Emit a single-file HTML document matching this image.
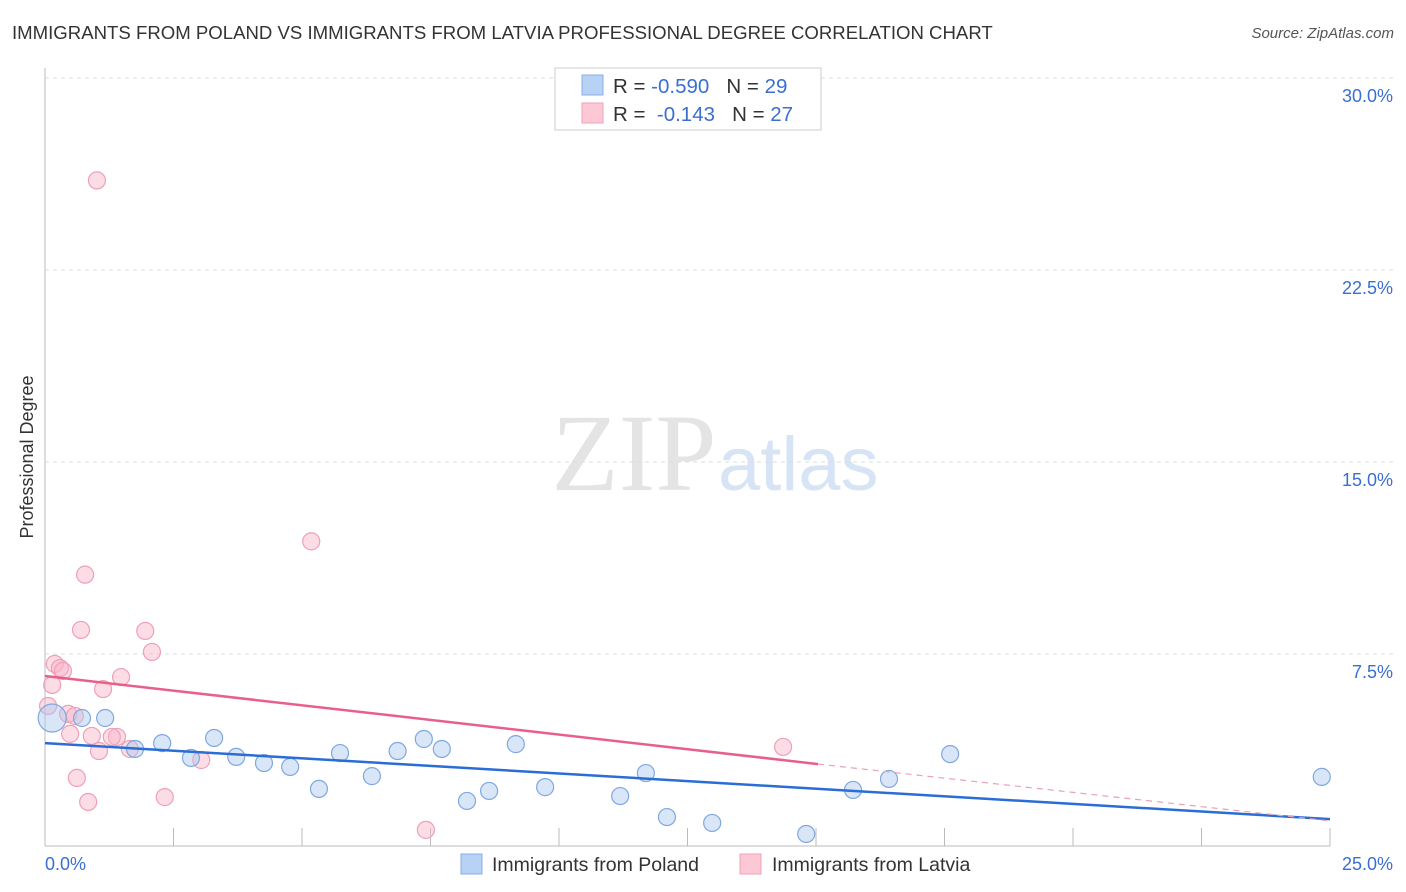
<!DOCTYPE html>
<html><head><meta charset="utf-8"><style>
body{margin:0;background:#fff;font-family:"Liberation Sans",sans-serif;}
#wrap{position:relative;width:1406px;height:892px;overflow:hidden;}
.t{position:absolute;white-space:nowrap;}
</style></head><body>
<div id="wrap">
<div class="t" style="left:12px;top:22px;font-size:18.6px;color:#333;">IMMIGRANTS FROM POLAND VS IMMIGRANTS FROM LATVIA PROFESSIONAL DEGREE CORRELATION CHART</div>
<div class="t" style="right:12px;top:25px;font-size:15px;color:#555;font-style:italic;">Source: ZipAtlas.com</div>
<svg id="svg" width="1406" height="892" style="position:absolute;left:0;top:0;"></svg>
</div>
<script>
const xTicks=[0,25];
const yTicks=[7.5,15,22.5,30];
const polandX=[0.14,0.72,1.17,1.75,2.28,2.84,3.29,3.72,4.26,4.77,5.33,5.74,6.36,6.86,7.37,7.72,8.21,8.64,9.16,9.73,11.19,11.69,12.10,12.98,14.81,15.72,16.42,17.61,24.84];
const polandY=[5.0,5.0,5.0,3.79,4.02,3.44,4.22,3.48,3.24,3.09,2.23,3.63,2.73,3.71,4.18,3.79,1.76,2.15,3.98,2.30,1.95,2.85,1.13,0.90,0.47,2.19,2.62,3.59,2.70];
const polandR=[14,8.5,8.5,8.5,8.5,8.5,8.5,8.5,8.5,8.5,8.5,8.5,8.5,8.5,8.5,8.5,8.5,8.5,8.5,8.5,8.5,8.5,8.5,8.5,8.5,8.5,8.5,8.5,8.5];
const latviaX=[1.01,5.18,0.78,0.70,1.95,2.08,0.19,0.29,0.35,0.14,1.48,1.13,0.06,0.45,0.58,0.49,0.91,1.40,1.30,1.05,1.65,3.04,0.62,2.33,0.84,7.41,14.36];
const latviaY=[26.0,11.9,10.6,8.44,8.40,7.58,7.11,6.95,6.84,6.29,6.60,6.13,5.47,5.16,5.08,4.38,4.30,4.26,4.26,3.71,3.79,3.36,2.66,1.91,1.72,0.63,3.87];
const polandTrend=[[0,4.02],[25,1.05]];
const latviaTrend=[[0,6.64],[15.04,3.2],[25,0.98]];
const X0=45,X1=1330,Y0=846,Y30=78;
const sx=v=>X0+(v/25)*(X1-X0);
const sy=v=>Y0-(v/30)*(Y0-Y30);
const svg=document.getElementById('svg');
const NS='http://www.w3.org/2000/svg';
function mk(tag,attrs,name,txt){const e=document.createElementNS(NS,tag);for(const k in attrs)e.setAttribute(k,attrs[k]);


if(txt!==undefined)e.textContent=txt;svg.appendChild(e);return e;}
mk('text',{x:634,y:490,'font-size':110,'font-family':'Liberation Serif,serif',fill:'#e4e4e4','text-anchor':'middle'},'watermark-zip','ZIP');
mk('text',{x:718,y:490,'font-size':76,'font-family':'Liberation Sans,sans-serif',fill:'#d6e4f5'},'watermark-atlas','atlas');
yTicks.forEach(v=>{const y=sy(v);
mk('line',{x1:X0,x2:1393,y1:y,y2:y,stroke:'#ddd','stroke-dasharray':'4,4'},'gridline');
mk('text',{x:1393,y:y+24,'font-size':18,fill:'#3a6fd0','text-anchor':'end'},'y-tick-label',v.toFixed(1)+'%');});
mk('line',{x1:X0,x2:X0,y1:68,y2:Y0,stroke:'#bbb'},'y-axis-line');
mk('line',{x1:X0,x2:X1,y1:Y0,y2:Y0,stroke:'#bbb'},'x-axis-line');
for(let i=1;i<=10;i++){const x=sx(i*2.5);mk('line',{x1:x,x2:x,y1:828,y2:Y0,stroke:'#bbb'},'x-tick');}
mk('text',{x:45,y:870,'font-size':18,fill:'#3a6fd0'},'x-tick-label',xTicks[0].toFixed(1)+'%');
mk('text',{x:1393,y:870,'font-size':18,fill:'#3a6fd0','text-anchor':'end'},'x-tick-label',xTicks[1].toFixed(1)+'%');
mk('text',{x:33,y:457,'font-size':18,fill:'#333','text-anchor':'middle',transform:'rotate(-90 33 457)'},'y-axis-title','Professional Degree');
latviaX.forEach((v,i)=>mk('circle',{cx:sx(v),cy:sy(latviaY[i]),r:8.5,fill:'rgba(248,180,200,0.45)',stroke:'#eea0b8','stroke-width':1.2},'latvia-point'));
polandX.forEach((v,i)=>mk('circle',{cx:sx(v),cy:sy(polandY[i]),r:polandR[i],fill:'rgba(170,200,240,0.45)',stroke:'#7fa8e0','stroke-width':1.2},'poland-point'));
mk('line',{x1:sx(polandTrend[0][0]),y1:sy(polandTrend[0][1]),x2:sx(polandTrend[1][0]),y2:sy(polandTrend[1][1]),stroke:'#2a6dd6','stroke-width':2.5},'poland-trend-line');
mk('line',{x1:sx(latviaTrend[0][0]),y1:sy(latviaTrend[0][1]),x2:sx(latviaTrend[1][0]),y2:sy(latviaTrend[1][1]),stroke:'#e8608a','stroke-width':2.5},'latvia-trend-line');
mk('line',{x1:sx(latviaTrend[1][0]),y1:sy(latviaTrend[1][1]),x2:sx(latviaTrend[2][0]),y2:sy(latviaTrend[2][1]),stroke:'#e8a0b8','stroke-width':1.2,'stroke-dasharray':'6,5'},'latvia-trend-extension');
mk('rect',{x:555,y:68,width:266,height:62,fill:'#fff',stroke:'#ccc'},'stats-legend-box');
mk('rect',{x:582,y:75,width:21,height:20,fill:'#b8d2f5',stroke:'#88aee6'},'poland-legend-swatch');
mk('rect',{x:582,y:103,width:21,height:20,fill:'#fcc8d6',stroke:'#f0a0b8'},'latvia-legend-swatch');
const s1=mk('text',{x:613,y:93,'font-size':20.5,fill:'#333'},'poland-stats','');s1.innerHTML='R = <tspan fill="#3a6fd0">-0.590</tspan>   N = <tspan fill="#3a6fd0">29</tspan>';s1.style.whiteSpace='pre';
const s2=mk('text',{x:613,y:121,'font-size':20.5,fill:'#333'},'latvia-stats','');s2.innerHTML='R =  <tspan fill="#3a6fd0">-0.143</tspan>   N = <tspan fill="#3a6fd0">27</tspan>';s2.style.whiteSpace='pre';
mk('rect',{x:461,y:854,width:21,height:20,fill:'#b8d2f5',stroke:'#88aee6'},'legend-poland-swatch');
mk('text',{x:492,y:871,'font-size':19.5,fill:'#333'},'legend-poland-label','Immigrants from Poland');
mk('rect',{x:740,y:854,width:21,height:20,fill:'#fcc8d6',stroke:'#f0a0b8'},'legend-latvia-swatch');
mk('text',{x:772,y:871,'font-size':19.5,fill:'#333'},'legend-latvia-label','Immigrants from Latvia');
</script>
</body></html>
